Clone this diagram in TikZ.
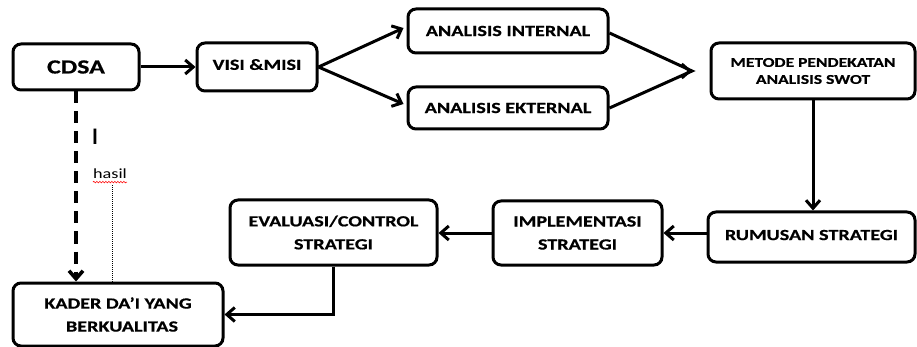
\documentclass[tikz,border=0pt]{standalone}
\usepackage{fontspec}
\setmainfont{Carlito}[FakeStretch=1.3,BoldFeatures={FakeBold=0.6}]
\usetikzlibrary{arrows.meta,decorations.pathmorphing,calc}
\begin{document}
\begin{tikzpicture}[x=1pt,y=-1pt,
  box/.style={draw,line width=3pt,rounded corners=8pt,align=center,inner sep=0pt,
    font=\bfseries\fontsize{15.5}{23}\selectfont},
  arr/.style={line width=3pt,-{Straight Barb[length=8pt,width=14pt]}},
  dasharr/.style={arr,line width=3.6pt,dash pattern=on 12pt off 8pt},
  thinline/.style={line width=0.6pt,dash pattern=on 1pt off 1pt}
]
\useasboundingbox (0,0) rectangle (917,347);

\node[box,minimum width=126pt,minimum height=46pt,font=\bfseries\fontsize{20}{24}\selectfont] (cdsa) at (76,67) {CDSA};
\node[box,minimum width=120pt,minimum height=48pt] (vm) at (257,67) {\raisebox{5pt}{VISI \&MISI}};
\node[box,minimum width=200pt,minimum height=44pt] (ai) at (508,31) {ANALISIS INTERNAL};
\node[box,minimum width=200pt,minimum height=42pt] (ae) at (508,108) {ANALISIS EKTERNAL};
\node[box,minimum width=204pt,minimum height=56pt,font=\bfseries\fontsize{13.5}{17}\selectfont] (met) at (813,71) {METODE PENDEKATAN\\ANALISIS SWOT};
\node[box,minimum width=207pt,minimum height=50pt] (rs) at (811.5,237) {\raisebox{4pt}{RUMUSAN STRATEGI}};
\node[box,minimum width=169pt,minimum height=64pt] (impl) at (577.5,233) {IMPLEMENTASI\\STRATEGI};
\node[box,minimum width=207pt,minimum height=65pt] (ev) at (333.5,232.5) {EVALUASI/CONTROL\\STRATEGI};
\node[box,minimum width=210pt,minimum height=63pt] (kd) at (118,314.5) {KADER DA’I YANG\\\hspace*{8pt}BERKUALITAS};

\coordinate (conv) at (692,71);

\draw[arr] (cdsa.east) -- (vm.west);
\draw[arr] (vm.east) -- ([xshift=-3pt,yshift=3pt]ai.west);
\draw[arr] (vm.east) -- ([xshift=-3pt,yshift=4pt]ae.west);
\draw[line width=3pt,line join=miter] ([yshift=-2pt]ai.east) -- (conv) -- (ae.east);
\draw[arr] ([xshift=-2pt]conv) -- (conv);
\draw[arr] (met.south) -- (met.south |- rs.north);
\draw[arr] (impl.east -| rs.west) -- (impl.east);
\draw[arr] (impl.west) -- (impl.west -| ev.east);
\draw[arr] (ev.south) |- (kd.east);
\draw[dasharr] (cdsa.south) -- (cdsa.south |- kd.north);

\node[inner sep=0pt,font=\fontsize{24}{24}\selectfont] (cur) at (95,137) {I};
\node[inner sep=0pt,font=\fontsize{14}{14}\selectfont] (hasil) at (110,174) {hasil};
\draw[red,line width=0.6pt,decorate,decoration={snake,amplitude=0.8pt,segment length=3pt}]
  ([yshift=-3pt]hasil.south west) -- ([yshift=-3pt]hasil.south east);
\draw[thinline] ([xshift=2pt,yshift=-6pt]hasil.south) -- ([xshift=2pt]hasil.south |- kd.north);
\end{tikzpicture}
\end{document}
